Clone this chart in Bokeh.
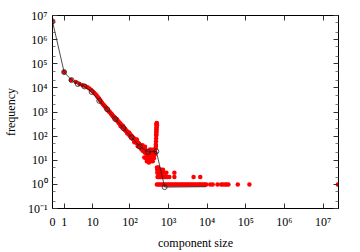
import numpy as np
from bokeh.plotting import figure
from bokeh.models import FixedTicker, CustomJSTickFormatter, LogAxis, Range1d
from bokeh.embed import file_html
from bokeh.resources import INLINE

# ---- raw frequencies (red points): component size -> number of components
red_size = [
    0, 1, 2, 3, 4, 5, 6, 7, 8, 9, 10, 11, 12, 13, 14, 15, 16, 17, 18, 19, 20,
    21, 22, 23, 24, 25, 26, 27, 28, 29,
    30, 31, 32, 33, 34, 35, 36, 37, 38, 39, 40, 41, 43, 44, 45, 46, 47, 49, 50,
    52, 53, 55, 56, 57, 58, 59, 62, 63, 65, 66, 67, 70, 71, 74, 75, 78, 79, 83,
    84, 85, 86, 88, 89, 93, 94, 96, 98, 99,
    100, 102, 104, 106, 108, 110, 112, 114, 116, 118, 120, 123, 126, 129, 130,
    132, 135, 138, 141, 144, 147, 150, 151, 154, 158, 160, 162, 166, 170, 174,
    178, 182, 186,
    190, 195, 200, 205, 210, 212, 215, 220, 226, 232, 236, 238, 244, 246, 250,
    257, 262, 264, 271, 275, 278, 283, 285, 292, 300, 308, 310, 316, 324, 332,
    335, 340, 345, 348, 355, 356, 364, 372, 380, 385, 390, 400, 410, 420, 430,
    440, 450, 460, 465,
    470, 472, 475, 478, 481, 483, 484, 486, 487, 489, 490, 492, 493, 495, 496,
    497, 499,
    505, 540,
    510, 560, 600, 650, 720,
    515, 530, 580, 620, 700, 780, 880, 1420,
    520, 550, 570, 610, 640, 680, 740, 800, 860, 940, 1050, 1420, 4460, 6640,
    500, 550, 600, 660, 730, 800, 880, 970, 1070, 1170, 1290, 1420, 1560, 1720,
    1890, 2080, 2290, 2520, 2770, 3050, 3350, 3690, 4060, 4460, 4910, 5400,
    5940, 6530, 7180, 7900, 8690, 9500, 12000, 13900, 18500, 23000, 25500,
    29000, 32000, 35500, 62000, 124000, 24000000,
]
red_freq = [
    5700000, 45000, 21000, 17500, 14500, 13000, 11800, 10600, 9400, 8100, 7100,
    6200, 5400, 4700, 4100, 3600, 3050, 2700, 2400, 2150, 1950,
    1800, 1640, 1520, 1400, 1300, 1210, 1130, 1060, 1000,
    960, 880, 820, 800, 770, 690, 660, 640, 600, 610, 540, 555, 510, 470, 505,
    430, 445, 400, 370,
    345, 365, 330, 300, 258, 280, 300, 265, 240, 272, 225, 245, 215, 195, 180,
    198, 175, 160, 148,
    160, 135, 128, 132, 145, 130, 118, 138, 110, 121,
    115, 100, 112, 96, 104, 88, 98, 84, 92, 80, 86, 74, 82, 68, 56,
    75, 63, 70, 58, 66, 54, 60, 72, 49, 55, 38, 44, 52, 41, 47,
    36, 44, 34,
    40, 30, 36, 28, 33, 42, 25, 34, 27, 30, 13, 22, 28, 36, 20,
    26, 12, 19, 24, 9, 16, 11, 23, 18, 25, 14, 8, 21, 12, 19,
    28, 10, 9, 17, 26, 13, 20, 11, 18, 27, 9, 15, 21, 12, 24,
    17, 28, 20, 32,
    45, 38, 60, 80, 105, 120, 140, 160, 180, 200, 230, 260, 300, 340, 350,
    310, 280,
    5, 5,
    4, 4, 4, 4, 4,
    3, 3, 3, 3, 3, 3, 3, 3,
    2, 2, 2, 2, 2, 2, 2, 2, 2, 2, 2, 2, 2, 2,
    1, 1, 1, 1, 1, 1, 1, 1, 1, 1, 1, 1, 1, 1,
    1, 1, 1, 1, 1, 1, 1, 1, 1, 1, 1, 1,
    1, 1, 1, 1, 1, 1, 1, 1, 1, 1, 1,
    1, 1, 1, 1, 1, 1,
]

# ---- log-binned averages (black line); circles only where bins are marked
bin_size = [0, 1, 2.1, 3.5, 5.7, 9.3, 15.2, 25, 41, 67, 110, 180, 295, 484,
            795, 9400]
bin_freq = [5700000, 45000, 21000, 14500, 11500, 6800, 2900, 1300, 510, 215,
            88, 37, 22, 23.5, 0.77, 0.8]
n_marked = 15

# ---- axis ticks
x_ticks = [0, 1, 10, 100, 1e3, 1e4, 1e5, 1e6, 1e7]
x_tick_labels = ["0", "1", "10", "10²", "10³", "10⁴", "10⁵", "10⁶", "10⁷"]
y_ticks = [0.1, 1, 10, 100, 1e3, 1e4, 1e5, 1e6, 1e7]
y_tick_labels = ["10⁻¹", "10⁰", "10¹", "10²", "10³", "10⁴", "10⁵", "10⁶", "10⁷"]

FONT = "'Liberation Serif', 'Times New Roman', serif"

# shift sizes by one so that size 0 can sit on a log axis
rx = np.array(red_size, dtype=float) + 1
bx = np.array(bin_size, dtype=float) + 1
xt = [t + 1 for t in x_ticks]
y_minor = [m * 10.0 ** e for e in range(-1, 7) for m in (2, 5)]

p = figure(width=360, height=252, x_axis_type="log", y_axis_type="log",
           x_range=Range1d(1, 2.5e7), y_range=Range1d(0.1, 1e7),
           output_backend="svg", toolbar_location=None,
           min_border_left=52, min_border_right=22, min_border_top=15,
           min_border_bottom=39)
p.xgrid.visible = False
p.ygrid.visible = False
p.outline_line_color = "black"
p.outline_line_width = 1
p.background_fill_color = "white"
p.border_fill_color = "white"

code = """
let best = 0, bd = Infinity;
for (let i = 0; i < tv.length; i++) {
  const d = Math.abs(Math.log(tick) - Math.log(tv[i]));
  if (d < bd) { bd = d; best = i; }
}
return lab[best];
"""
xfmt = CustomJSTickFormatter(args=dict(tv=xt, lab=x_tick_labels), code=code)
yfmt = CustomJSTickFormatter(args=dict(tv=y_ticks, lab=y_tick_labels), code=code)
empty = CustomJSTickFormatter(code="return ''")


def style(ax):
    ax.major_tick_in = 5
    ax.major_tick_out = 0
    ax.minor_tick_in = 3
    ax.minor_tick_out = 0
    ax.major_tick_line_color = "#333333"
    ax.minor_tick_line_color = "#555555"
    ax.major_tick_line_width = 1
    ax.minor_tick_line_width = 0.8
    ax.axis_line_color = "black"
    ax.axis_line_width = 1
    ax.major_label_text_font = FONT
    ax.major_label_text_font_size = "12px"
    ax.major_label_text_color = "black"
    ax.axis_label_text_font = FONT
    ax.axis_label_text_font_size = "12px"
    ax.axis_label_text_font_style = "normal"
    ax.axis_label_text_color = "black"


xa = p.xaxis[0]
xa.ticker = FixedTicker(ticks=xt, minor_ticks=[])
xa.formatter = xfmt
style(xa)
xa.major_label_standoff = 6
xa.axis_label = "component size"
xa.axis_label_standoff = 4

ya = p.yaxis[0]
ya.ticker = FixedTicker(ticks=y_ticks, minor_ticks=y_minor)
ya.formatter = yfmt
style(ya)
ya.major_label_standoff = 5
ya.axis_label = "frequency"
ya.axis_label_standoff = 7

top = LogAxis(ticker=FixedTicker(ticks=xt, minor_ticks=[]), formatter=empty)
style(top)
top.major_label_standoff = 0
p.add_layout(top, "above")

right = LogAxis(ticker=FixedTicker(ticks=y_ticks, minor_ticks=y_minor), formatter=empty)
style(right)
right.major_label_standoff = 0
p.add_layout(right, "right")

p.scatter(rx, red_freq, size=4.5, fill_color="red", line_color=None)
p.line(bx, bin_freq, line_color="#222222", line_width=0.8)
p.scatter(bx[:n_marked], bin_freq[:n_marked], size=5, fill_color=None,
          line_color="#222222", line_width=0.8)

open("out.html", "w").write(file_html(p, INLINE))
